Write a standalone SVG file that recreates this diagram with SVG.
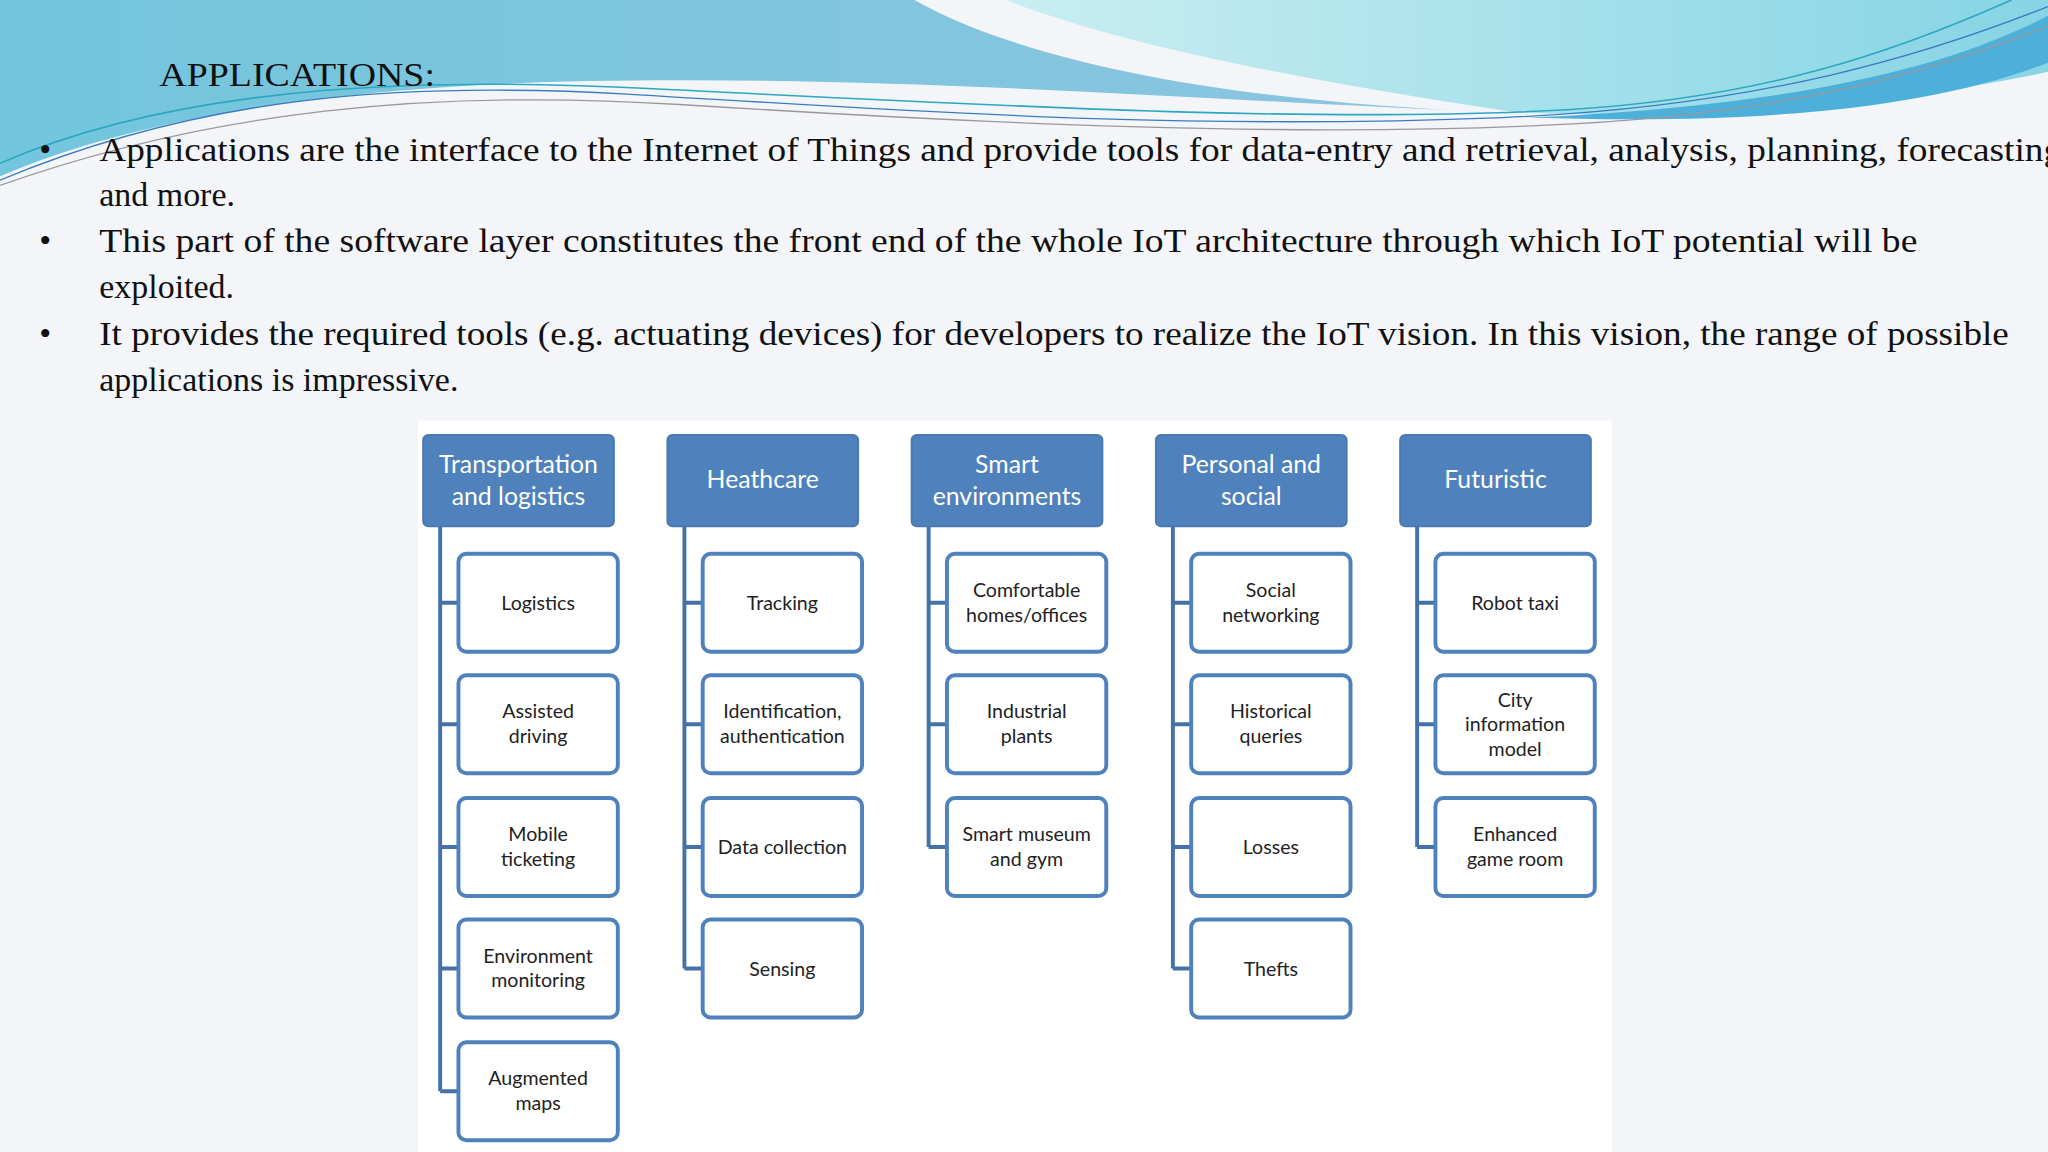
<svg xmlns="http://www.w3.org/2000/svg" width="2048" height="1152" viewBox="0 0 2048 1152">
<defs>
<linearGradient id="gb" x1="0" y1="0" x2="1" y2="0"><stop offset="0" stop-color="#72c6dd"/><stop offset="1" stop-color="#8cc4e0"/></linearGradient>
<linearGradient id="gc" x1="0" y1="0" x2="1" y2="0"><stop offset="0" stop-color="#c9eef2"/><stop offset="1" stop-color="#86d4e4"/></linearGradient>
<style>
.h{fill:#4f81bd;stroke:#4a78b0;stroke-width:1.5}
.c{fill:#fff;stroke:#4f81bd;stroke-width:3}
.ht{font-family:Lato,"Open Sans",sans-serif;font-size:19px;fill:#fff;text-anchor:middle}
.ct{font-family:Lato,"Open Sans",sans-serif;font-size:15px;fill:#222;text-anchor:middle}
.ln{stroke:#4472a8;stroke-width:3;fill:none}
.st{font-family:"Liberation Serif",serif;font-size:26px;fill:#111}
</style>
</defs>
<g transform="scale(1.306122)">
<rect width="1568" height="882" fill="#f4f5f9"/>
<path d="M0,0 L700,0 C780,45 930,78 1150,86 C900,76 700,58 450,62 C250,66 100,92 0,135 Z" fill="url(#gb)"/>
<path d="M770,0 L1568,0 L1568,55 C1450,80 1300,92 1160,86 C1000,62 860,35 770,0 Z" fill="url(#gc)"/>
<path d="M1568,12 C1480,58 1350,82 1170,90 C1350,96 1480,82 1568,48 Z" fill="#4db0da"/>
<path d="M0,125 C150,60 350,60 500,68 C750,80 1000,95 1200,84 C1350,75 1450,40 1540,0" fill="none" stroke="#2aa8c0" stroke-width="1.2"/>
<path d="M0,138 C150,75 300,62 480,72 C700,85 900,100 1150,90 C1350,82 1480,40 1568,5" fill="none" stroke="#3a7cc0" stroke-width="1"/>
<path d="M0,142 C160,85 330,68 520,80 C760,95 980,105 1180,96 C1380,88 1490,50 1568,20" fill="none" stroke="#999" stroke-width="1"/>
<text class="st" x="122" y="66" textLength="211" lengthAdjust="spacingAndGlyphs">APPLICATIONS:</text>
<g class="st">
<text x="30" y="123">•</text><text x="30" y="193">•</text><text x="30" y="264">•</text>
<text x="76" y="123" textLength="1510" lengthAdjust="spacingAndGlyphs">Applications are the interface to the Internet of Things and provide tools for data-entry and retrieval, analysis, planning, forecasting,</text>
<text x="76" y="158">and more.</text>
<text x="76" y="193" textLength="1392" lengthAdjust="spacingAndGlyphs">This part of the software layer constitutes the front end of the whole IoT architecture through which IoT potential will be</text>
<text x="76" y="228">exploited.</text>
<text x="76" y="264" textLength="1462" lengthAdjust="spacingAndGlyphs">It provides the required tools (e.g. actuating devices) for developers to realize the IoT vision. In this vision, the range of possible</text>
<text x="76" y="299">applications is impressive.</text>
</g>
<rect x="320" y="322" width="914" height="560" fill="#fff"/>
<g id="connectors">
<path class="ln" d="M337,403 V835.5 M337,461.5 H351 M337,554.5 H351 M337,648.5 H351 M337,741.5 H351 M337,835.5 H351"/>
<path class="ln" d="M524,403 V741.5 M524,461.5 H538 M524,554.5 H538 M524,648.5 H538 M524,741.5 H538"/>
<path class="ln" d="M711,403 V648.5 M711,461.5 H725 M711,554.5 H725 M711,648.5 H725"/>
<path class="ln" d="M898,403 V741.5 M898,461.5 H912 M898,554.5 H912 M898,648.5 H912 M898,741.5 H912"/>
<path class="ln" d="M1085,403 V648.5 M1085,461.5 H1099 M1085,554.5 H1099 M1085,648.5 H1099"/>
</g>
<g id="h0"><rect class="h" x="324" y="333" width="146" height="70" rx="4"/><text class="ht" x="397" y="362">Transportation</text><text class="ht" x="397" y="387">and logistics</text></g>
<g id="h1"><rect class="h" x="511" y="333" width="146" height="70" rx="4"/><text class="ht" x="584" y="374">Heathcare</text></g>
<g id="h2"><rect class="h" x="698" y="333" width="146" height="70" rx="4"/><text class="ht" x="771" y="362">Smart</text><text class="ht" x="771" y="387">environments</text></g>
<g id="h3"><rect class="h" x="885" y="333" width="146" height="70" rx="4"/><text class="ht" x="958" y="362">Personal and</text><text class="ht" x="958" y="387">social</text></g>
<g id="h4"><rect class="h" x="1072" y="333" width="146" height="70" rx="4"/><text class="ht" x="1145" y="374">Futuristic</text></g>

<g id="c00"><rect class="c" x="351" y="424" width="122" height="75" rx="6"/><text class="ct" x="412" y="467">Logistics</text></g>
<g id="c01"><rect class="c" x="351" y="517" width="122" height="75" rx="6"/><text class="ct" x="412" y="550">Assisted</text><text class="ct" x="412" y="569">driving</text></g>
<g id="c02"><rect class="c" x="351" y="611" width="122" height="75" rx="6"/><text class="ct" x="412" y="644">Mobile</text><text class="ct" x="412" y="663">ticketing</text></g>
<g id="c03"><rect class="c" x="351" y="704" width="122" height="75" rx="6"/><text class="ct" x="412" y="737">Environment</text><text class="ct" x="412" y="756">monitoring</text></g>
<g id="c04"><rect class="c" x="351" y="798" width="122" height="75" rx="6"/><text class="ct" x="412" y="831">Augmented</text><text class="ct" x="412" y="850">maps</text></g>

<g id="c10"><rect class="c" x="538" y="424" width="122" height="75" rx="6"/><text class="ct" x="599" y="467">Tracking</text></g>
<g id="c11"><rect class="c" x="538" y="517" width="122" height="75" rx="6"/><text class="ct" x="599" y="550">Identification,</text><text class="ct" x="599" y="569">authentication</text></g>
<g id="c12"><rect class="c" x="538" y="611" width="122" height="75" rx="6"/><text class="ct" x="599" y="654">Data collection</text></g>
<g id="c13"><rect class="c" x="538" y="704" width="122" height="75" rx="6"/><text class="ct" x="599" y="747">Sensing</text></g>

<g id="c20"><rect class="c" x="725" y="424" width="122" height="75" rx="6"/><text class="ct" x="786" y="457">Comfortable</text><text class="ct" x="786" y="476">homes/offices</text></g>
<g id="c21"><rect class="c" x="725" y="517" width="122" height="75" rx="6"/><text class="ct" x="786" y="550">Industrial</text><text class="ct" x="786" y="569">plants</text></g>
<g id="c22"><rect class="c" x="725" y="611" width="122" height="75" rx="6"/><text class="ct" x="786" y="644">Smart museum</text><text class="ct" x="786" y="663">and gym</text></g>

<g id="c30"><rect class="c" x="912" y="424" width="122" height="75" rx="6"/><text class="ct" x="973" y="457">Social</text><text class="ct" x="973" y="476">networking</text></g>
<g id="c31"><rect class="c" x="912" y="517" width="122" height="75" rx="6"/><text class="ct" x="973" y="550">Historical</text><text class="ct" x="973" y="569">queries</text></g>
<g id="c32"><rect class="c" x="912" y="611" width="122" height="75" rx="6"/><text class="ct" x="973" y="654">Losses</text></g>
<g id="c33"><rect class="c" x="912" y="704" width="122" height="75" rx="6"/><text class="ct" x="973" y="747">Thefts</text></g>

<g id="c40"><rect class="c" x="1099" y="424" width="122" height="75" rx="6"/><text class="ct" x="1160" y="467">Robot taxi</text></g>
<g id="c41"><rect class="c" x="1099" y="517" width="122" height="75" rx="6"/><text class="ct" x="1160" y="541">City</text><text class="ct" x="1160" y="560">information</text><text class="ct" x="1160" y="579">model</text></g>
<g id="c42"><rect class="c" x="1099" y="611" width="122" height="75" rx="6"/><text class="ct" x="1160" y="644">Enhanced</text><text class="ct" x="1160" y="663">game room</text></g>
</g>
</svg>
